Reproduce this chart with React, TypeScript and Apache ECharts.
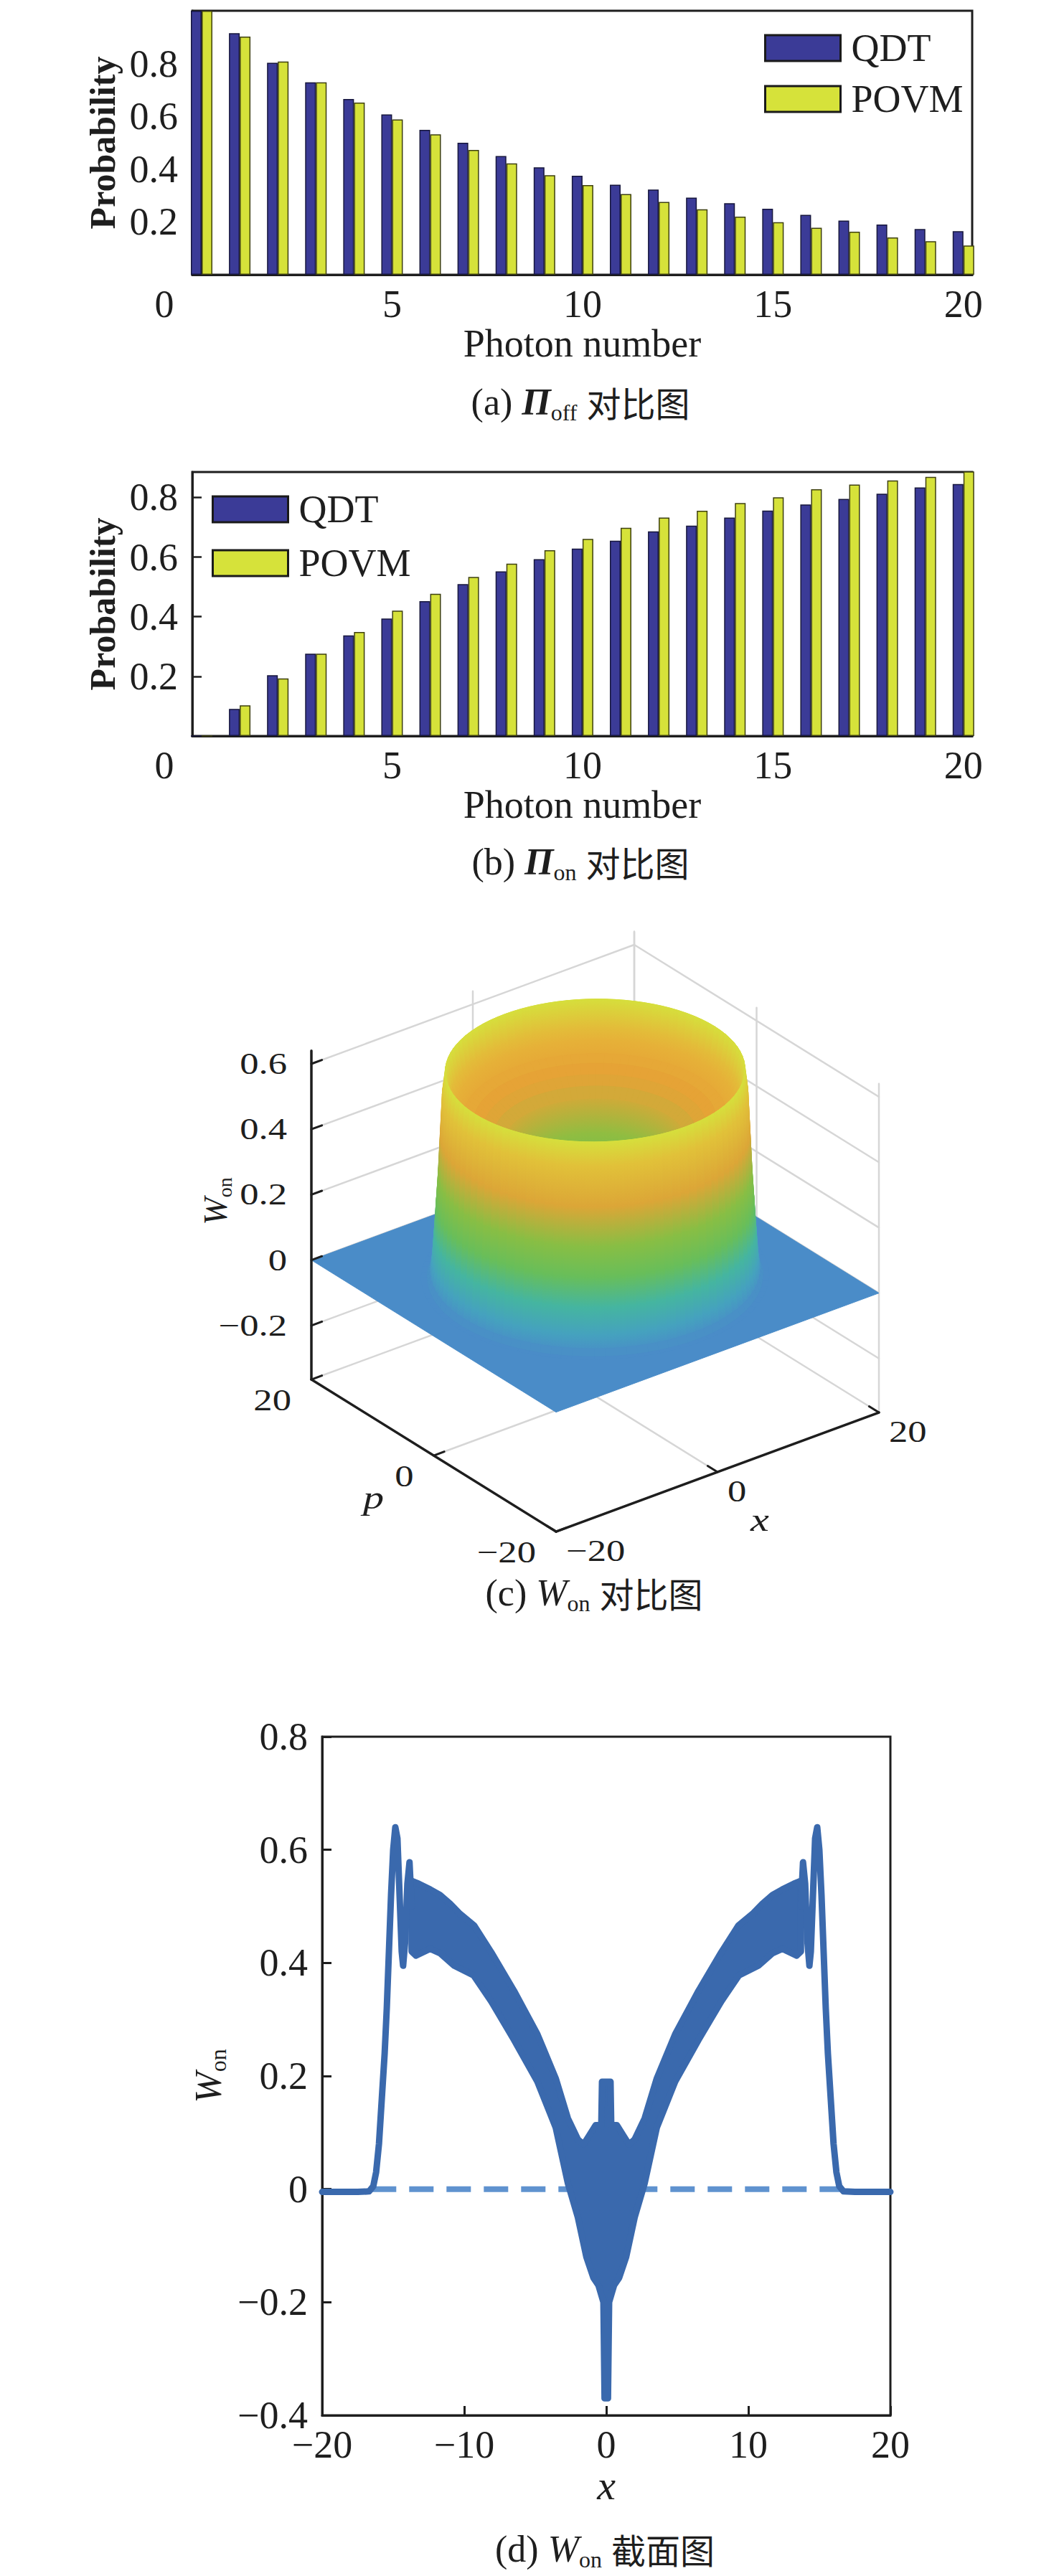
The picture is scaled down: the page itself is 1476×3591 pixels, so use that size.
import React, { useEffect, useRef } from 'react';
import * as echarts from 'echarts';

// ---------------- Panel (a) / (b): photon-number distributions ----------------
const PHOTON_NUMBERS = [0, 1, 2, 3, 4, 5, 6, 7, 8, 9, 10, 11, 12, 13, 14, 15, 16, 17, 18, 19, 20];
const OFF_QDT = [1.0, 0.915, 0.803, 0.729, 0.666, 0.607, 0.549, 0.5, 0.45, 0.407, 0.375, 0.341, 0.323, 0.292, 0.271, 0.25, 0.227, 0.205, 0.19, 0.173, 0.165];
const OFF_POVM = [1.0, 0.902, 0.808, 0.729, 0.652, 0.588, 0.532, 0.473, 0.422, 0.377, 0.34, 0.306, 0.276, 0.248, 0.22, 0.199, 0.178, 0.163, 0.141, 0.127, 0.111];
const ON_QDT = [0, 0.091, 0.204, 0.276, 0.337, 0.394, 0.452, 0.509, 0.552, 0.593, 0.628, 0.655, 0.686, 0.705, 0.732, 0.756, 0.776, 0.795, 0.812, 0.833, 0.845];
const ON_POVM = [0, 0.103, 0.193, 0.276, 0.349, 0.42, 0.477, 0.533, 0.578, 0.623, 0.661, 0.698, 0.732, 0.755, 0.781, 0.8, 0.827, 0.843, 0.857, 0.869, 0.895];
const PHOTON_TICKS = [0, 5, 10, 15, 20];
const PROB_TICKS = [0.2, 0.4, 0.6, 0.8];

// ---------------- Panel (c): radially symmetric W_on surface ----------------
const SURF_R = [0, 1, 2, 3, 4, 5, 6, 7, 8, 9, 10, 11, 12, 13, 13.8, 14.3, 14.8, 15.1, 15.3, 15.5, 15.7, 15.9, 16.1, 16.3, 16.6, 17.2];
const SURF_W = [0.0, -0.02, 0.03, 0.11, 0.18, 0.24, 0.29, 0.335, 0.37, 0.41, 0.435, 0.455, 0.475, 0.49, 0.52, 0.55, 0.63, 0.56, 0.44, 0.32, 0.23, 0.14, 0.06, 0.02, 0.0, 0.0];
const Z_TICKS = [-0.2, 0, 0.2, 0.4, 0.6];
const XP_TICKS = [-20, 0, 20];
const Z_RANGE = [-0.365, 0.64];
const XP_RANGE = [-20, 20];
const CMAP_W = [-0.37, -0.1, 0.0, 0.07, 0.14, 0.24, 0.33, 0.4, 0.46, 0.53, 0.59, 0.64];
const CMAP_C = ['#3b3f9e', '#4678c8', '#4a8cc8', '#44a6bc', '#45b5a0', '#6cbf52', '#8cbe42', '#c8ad3a', '#e6a236', '#e6b438', '#dccd3a', '#d4e23c'];

// ---------------- Panel (d): W_on cross-section ----------------
const CUT_LEFT_X = [-20, -17.5, -16.7, -16.4, -16.2, -16.0, -15.8, -15.6, -15.45, -15.3, -15.15, -15.0, -14.85, -14.7, -14.55, -14.4, -14.3, -14.15, -14.0, -13.85, -13.7];
const CUT_LEFT_W = [-0.005, -0.005, -0.004, 0.005, 0.03, 0.08, 0.16, 0.24, 0.32, 0.42, 0.52, 0.6, 0.64, 0.62, 0.52, 0.42, 0.395, 0.44, 0.54, 0.578, 0.5];
const CUT_RIGHT_X = [13.7, 13.85, 14.0, 14.15, 14.3, 14.4, 14.55, 14.7, 14.85, 15.0, 15.15, 15.3, 15.45, 15.6, 15.8, 16.0, 16.2, 16.4, 16.7, 17.5, 20];
const CUT_RIGHT_W = [0.5, 0.578, 0.54, 0.44, 0.395, 0.42, 0.52, 0.62, 0.64, 0.6, 0.52, 0.42, 0.32, 0.24, 0.16, 0.08, 0.03, 0.005, -0.004, -0.005, -0.005];
const BAND_UPPER_X = [-13.7, -13.2, -12.4, -11.7, -11.0, -10.35, -9.3, -8.1, -6.5, -4.85, -3.56, -2.7, -2.0, -1.6, -1.2, -0.75, -0.35, -0.3, 0.3, 0.35, 0.75, 1.2, 1.6, 2.0, 2.7, 3.56, 4.85, 6.5, 8.1, 9.3, 10.35, 11.0, 11.7, 12.4, 13.2, 13.7];
const BAND_UPPER_W = [0.545, 0.54, 0.53, 0.52, 0.505, 0.488, 0.466, 0.419, 0.351, 0.274, 0.196, 0.125, 0.088, 0.079, 0.095, 0.113, 0.113, 0.19, 0.19, 0.113, 0.113, 0.095, 0.079, 0.088, 0.125, 0.196, 0.274, 0.351, 0.419, 0.466, 0.488, 0.505, 0.52, 0.53, 0.54, 0.545];
const BAND_LOWER_X = [-13.7, -13.4, -12.4, -11.7, -10.7, -9.34, -8.1, -6.5, -4.85, -3.56, -2.7, -2.0, -1.4, -0.9, -0.55, -0.2, -0.12, 0.12, 0.2, 0.55, 0.9, 1.4, 2.0, 2.7, 3.56, 4.85, 6.5, 8.1, 9.34, 10.7, 11.7, 12.4, 13.4, 13.7];
const BAND_LOWER_W = [0.42, 0.413, 0.425, 0.417, 0.395, 0.378, 0.332, 0.264, 0.19, 0.109, 0.01, -0.05, -0.12, -0.157, -0.17, -0.2, -0.37, -0.37, -0.2, -0.17, -0.157, -0.12, -0.05, 0.01, 0.109, 0.19, 0.264, 0.332, 0.378, 0.395, 0.417, 0.425, 0.413, 0.42];
const ZERO_X = [-16.5, 16.5];
const ZERO_W = [0, 0];
const CUT_X_TICKS = [-20, -10, 0, 10, 20];

// ---------------- styling ----------------
const SERIF = 'Liberation Serif';
const CJK = 'Noto Sans CJK SC';
const INK = '#1e1e1e';
const QDT_C = '#3b3b97';
const POVM_C = '#d6e23a';
const LINE_C = '#3a69ad';
const DASH_C = '#5f92cf';
const GRID_C = '#d6d6d6';

// 3D view (orthographic, MATLAB-like az -37.5 / el 30): screen px per data unit
const EX = [11.25, 4.15];
const EP = [-8.525, 5.3];
const EZ = 456;
const project = (x: number, p: number, w: number) => [EX[0] * x + EP[0] * p, EX[1] * x + EP[1] * p + EZ * w];
const U_RANGE = [-560, 480];
const V_RANGE = [-420, 460];

const hexRgb = (c: string) => [parseInt(c.slice(1, 3), 16), parseInt(c.slice(3, 5), 16), parseInt(c.slice(5, 7), 16)];
const CMAP_RGB = CMAP_C.map(hexRgb);
function cmap(w: number) {
  if (w <= CMAP_W[0]) w = CMAP_W[0];
  if (w >= CMAP_W[CMAP_W.length - 1]) w = CMAP_W[CMAP_W.length - 1];
  let k = 0;
  while (k < CMAP_W.length - 2 && w > CMAP_W[k + 1]) k++;
  const t = (w - CMAP_W[k]) / (CMAP_W[k + 1] - CMAP_W[k]);
  const a = CMAP_RGB[k], b = CMAP_RGB[k + 1];
  const c = a.map((v, i) => Math.round(v + (b[i] - v) * t));
  return `rgb(${c[0]},${c[1]},${c[2]})`;
}

const fmtNum = (v: number) => {
  const r = Math.round(v * 10) / 10;
  return r === 0 ? '0' : String(r).replace('-', '\u2212');
};

function render3D(_params: any, api: any) {
  const P = (x: number, p: number, w: number) => api.coord(project(x, p, w));
  const [zMin, zMax] = Z_RANGE;
  const [a0, a1] = XP_RANGE;
  const children: any[] = [];
  const seg = (A: number[], B: number[], stroke: string, lw: number) => ({
    type: 'line',
    shape: { x1: A[0], y1: A[1], x2: B[0], y2: B[1] },
    style: { stroke, lineWidth: lw, lineCap: 'round' },
  });
  // grid lines on the back walls and the floor
  Z_TICKS.forEach((z) => {
    children.push(seg(P(a0, a1, z), P(a1, a1, z), GRID_C, 2.5));
    children.push(seg(P(a1, a1, z), P(a1, a0, z), GRID_C, 2.5));
  });
  XP_TICKS.forEach((t) => {
    children.push(seg(P(t, a1, zMin), P(t, a1, zMax), GRID_C, 2.5));
    children.push(seg(P(a1, t, zMin), P(a1, t, zMax), GRID_C, 2.5));
    children.push(seg(P(t, a0, zMin), P(t, a1, zMin), GRID_C, 2.5));
    children.push(seg(P(a0, t, zMin), P(a1, t, zMin), GRID_C, 2.5));
  });
  // flat floor of the surface
  const wf = SURF_W[SURF_W.length - 1];
  const floorC = cmap(wf);
  children.push({
    type: 'polygon',
    shape: { points: [P(a0, a0, wf), P(a1, a0, wf), P(a1, a1, wf), P(a0, a1, wf)] },
    style: { fill: floorC, stroke: floorC, lineWidth: 1 },
  });
  // revolved surface, painter's order
  const NT = 96;
  const faces: any[] = [];
  for (let i = 0; i < SURF_R.length - 1; i++) {
    const r0 = SURF_R[i], r1 = SURF_R[i + 1], w0 = SURF_W[i], w1 = SURF_W[i + 1];
    for (let j = 0; j < NT; j++) {
      const t0 = (j / NT) * 2 * Math.PI, t1 = ((j + 1) / NT) * 2 * Math.PI, tm = (t0 + t1) / 2;
      const c0 = Math.cos(t0), s0 = Math.sin(t0), c1 = Math.cos(t1), s1 = Math.sin(t1);
      const pts = [P(r0 * c0, r0 * s0, w0), P(r1 * c0, r1 * s0, w1), P(r1 * c1, r1 * s1, w1), P(r0 * c1, r0 * s1, w0)];
      const rm = (r0 + r1) / 2;
      const depth = EX[1] * rm * Math.cos(tm) + EP[1] * rm * Math.sin(tm);
      let fill: any;
      if (Math.abs(w1 - w0) > 0.03) {
        const A = P(r0 * Math.cos(tm), r0 * Math.sin(tm), w0);
        const B = P(r1 * Math.cos(tm), r1 * Math.sin(tm), w1);
        fill = new echarts.graphic.LinearGradient(A[0], A[1], B[0], B[1], [
          { offset: 0, color: cmap(w0) },
          { offset: 1, color: cmap(w1) },
        ], true);
      } else {
        fill = cmap((w0 + w1) / 2);
      }
      faces.push({ depth, pts, fill });
    }
  }
  faces.sort((A, B) => B.depth - A.depth);
  faces.forEach((f) => children.push({ type: 'polygon', shape: { points: f.pts }, style: { fill: f.fill, stroke: f.fill, lineWidth: 1 } }));
  // axes
  children.push(seg(P(a0, a1, zMin), P(a0, a1, zMax), INK, 3.5));
  children.push(seg(P(a0, a1, zMin), P(a0, a0, zMin), INK, 3.5));
  children.push(seg(P(a0, a0, zMin), P(a1, a0, zMin), INK, 3.5));
  const txt = (pos: number[], dx: number, dy: number, text: string, align: string, extra: any = {}) => ({
    type: 'text',
    x: pos[0] + dx,
    y: pos[1] + dy,
    scaleX: 1.12,
    scaleY: 0.88,
    style: { text, align, verticalAlign: 'middle', fontFamily: SERIF, fontSize: 47, fill: INK, ...extra },
  });
  Z_TICKS.forEach((z) => {
    children.push(seg(P(a0, a1, z), P(a0 + 1.3, a1, z), INK, 3));
    children.push(txt(P(a0, a1, z), -34, 0, fmtNum(z), 'right'));
  });
  XP_TICKS.forEach((t) => {
    const lab = t < 0 ? '\u2212' + Math.abs(t) : String(t);
    children.push(seg(P(a0, t, zMin), P(a0 + 1.3, t, zMin), INK, 3));
    children.push(seg(P(t, a0, zMin), P(t, a0 + 1.6, zMin), INK, 3));
    children.push(txt(P(a0, t, zMin), -28, 29, lab, 'right'));
    children.push(txt(P(t, a0, zMin), 14, 27, lab, 'left'));
  });
  children.push(txt(P(a0, 0, zMin), -84, 58, 'p', 'center', { fontStyle: 'italic', fontSize: 52 }));
  children.push(txt(P(0, a0, zMin), 59, 66, 'x', 'center', { fontStyle: 'italic', fontSize: 52 }));
  const wPos = P(a0, a1, 0.18);
  children.push({
    type: 'text',
    x: wPos[0] - 134,
    y: wPos[1],
    rotation: Math.PI / 2,
    style: {
      text: '{w|W}{s|on}',
      align: 'center',
      verticalAlign: 'middle',
      rich: {
        w: { fontFamily: SERIF, fontStyle: 'italic', fontSize: 46, lineHeight: 54, fill: INK, color: INK },
        s: { fontFamily: SERIF, fontSize: 28, lineHeight: 18, verticalAlign: 'bottom', fill: INK, color: INK },
      },
    },
  });
  return { type: 'group', children };
}

function renderBand(_params: any, api: any) {
  const up = BAND_UPPER_X.map((x, i) => api.coord([x, BAND_UPPER_W[i]]));
  const lo = BAND_LOWER_X.map((x, i) => api.coord([x, BAND_LOWER_W[i]])).reverse();
  return {
    type: 'polygon',
    shape: { points: up.concat(lo) },
    style: { fill: LINE_C, stroke: LINE_C, lineWidth: 9, lineJoin: 'round' },
  };
}

function caption(x: number, y: number, label: string, sym: string, symBold: boolean, sub: string, cn: string) {
  return {
    type: 'text',
    x,
    y,
    style: {
      text: `{t|${label} }{m|${sym}}{s|${sub}}{t| }{c|${cn}}`,
      align: 'center',
      verticalAlign: 'middle',
      rich: {
        t: { fontFamily: SERIF, fontSize: 52, lineHeight: 62, fill: INK, color: INK },
        m: { fontFamily: SERIF, fontSize: 52, lineHeight: 62, fontStyle: 'italic', fontWeight: symBold ? 'bold' : 'normal', fill: INK, color: INK },
        s: { fontFamily: SERIF, fontSize: 32, lineHeight: 22, verticalAlign: 'bottom', fill: INK, color: INK },
        c: { fontFamily: CJK, fontSize: 48, lineHeight: 62, fill: INK, color: INK },
      },
    },
  };
}

function barAxes(gridIndex: number, yMax: number) {
  const x = {
    gridIndex,
    type: 'value',
    min: -0.245,
    max: 20.23,
    axisLine: { show: true, onZero: false, lineStyle: { color: INK, width: 3 } },
    axisTick: { show: false },
    splitLine: { show: false },
    axisLabel: {
      customValues: PHOTON_TICKS,
      margin: 14,
      fontFamily: SERIF,
      fontSize: 54,
      color: INK,
      formatter: (v: number) => (v === 0 ? '{z|0}' : String(v)),
      rich: { z: { fontFamily: SERIF, fontSize: 54, color: INK, padding: [0, 104, 0, 0] } },
    },
    name: 'Photon number',
    nameLocation: 'middle',
    nameGap: 58,
    nameTextStyle: { fontFamily: SERIF, fontSize: 54, color: INK },
  };
  const y = {
    gridIndex,
    type: 'value',
    min: 0,
    max: yMax,
    interval: 0.2,
    axisLine: { show: true, onZero: false, lineStyle: { color: INK, width: 3 } },
    axisTick: { show: true, inside: true, length: 13, customValues: PROB_TICKS, lineStyle: { color: INK, width: 2.5 } },
    splitLine: { show: false },
    axisLabel: {
      customValues: PROB_TICKS,
      margin: 20,
      fontFamily: SERIF,
      fontSize: 54,
      color: INK,
      formatter: (v: number) => (PROB_TICKS.some((t) => Math.abs(t - v) < 1e-6) ? v.toFixed(1) : ''),
    },
    name: 'Probability',
    nameLocation: 'middle',
    nameGap: 100,
    nameTextStyle: { fontFamily: SERIF, fontSize: 50, fontWeight: 'bold', color: INK },
  };
  return { x, y };
}

function barSeries(gridIndex: number, qdt: number[], povm: number[]) {
  return [
    {
      type: 'bar',
      name: 'QDT',
      xAxisIndex: gridIndex,
      yAxisIndex: gridIndex,
      data: PHOTON_NUMBERS.map((n, i) => [n, qdt[i]]),
      barWidth: 15,
      barGap: '0%',
      itemStyle: { color: QDT_C, borderColor: '#17173d', borderWidth: 1.5 },
    },
    {
      type: 'bar',
      name: 'POVM',
      xAxisIndex: gridIndex,
      yAxisIndex: gridIndex,
      data: PHOTON_NUMBERS.map((n, i) => [n, povm[i]]),
      barWidth: 15,
      barGap: '0%',
      itemStyle: { color: POVM_C, borderColor: '#3e4010', borderWidth: 1.5 },
    },
  ];
}

function legend(left: number, top: number, gap: number) {
  return {
    data: ['QDT', 'POVM'],
    orient: 'vertical',
    left,
    top,
    itemWidth: 105,
    itemHeight: 36,
    itemGap: gap,
    icon: 'rect',
    selectedMode: false,
    itemStyle: { borderColor: '#1a1a1a', borderWidth: 3 },
    textStyle: { fontFamily: SERIF, fontSize: 54, color: INK, lineHeight: 40, padding: [0, 0, 0, 10] },
  };
}

function buildOption() {
  const a = barAxes(0, 1.0);
  const b = barAxes(1, 0.885);
  return {
    animation: false,
    backgroundColor: '#ffffff',
    textStyle: { fontFamily: SERIF },
    grid: [
      { left: 268, top: 15, width: 1087, height: 368, show: true, borderColor: INK, borderWidth: 3, containLabel: false },
      { left: 268, top: 658, width: 1087, height: 368, show: true, borderColor: INK, borderWidth: 3, containLabel: false },
      {
        left: 829.5 + U_RANGE[0],
        top: 1779.6 - V_RANGE[1],
        width: U_RANGE[1] - U_RANGE[0],
        height: V_RANGE[1] - V_RANGE[0],
        show: false,
      },
      { left: 449, top: 2421, width: 792, height: 946, show: true, borderColor: INK, borderWidth: 3, containLabel: false },
    ],
    legend: [legend(1060, 35, 17), legend(290, 678, 21)],
    xAxis: [
      a.x,
      b.x,
      { gridIndex: 2, type: 'value', min: U_RANGE[0], max: U_RANGE[1], show: false },
      {
        gridIndex: 3,
        type: 'value',
        min: -20,
        max: 20,
        interval: 10,
        axisLine: { show: true, onZero: false, lineStyle: { color: INK, width: 3 } },
        axisTick: { show: true, inside: true, length: 13, customValues: CUT_X_TICKS, lineStyle: { color: INK, width: 3 } },
        splitLine: { show: false },
        axisLabel: { customValues: CUT_X_TICKS, margin: 14, fontFamily: SERIF, fontSize: 54, color: INK, formatter: fmtNum },
        name: 'x',
        nameLocation: 'middle',
        nameGap: 62,
        nameTextStyle: { fontFamily: SERIF, fontStyle: 'italic', fontSize: 58, color: INK },
      },
    ],
    yAxis: [
      a.y,
      b.y,
      { gridIndex: 2, type: 'value', min: V_RANGE[0], max: V_RANGE[1], show: false },
      {
        gridIndex: 3,
        type: 'value',
        min: -0.4,
        max: 0.8,
        interval: 0.2,
        axisLine: { show: true, onZero: false, lineStyle: { color: INK, width: 3 } },
        axisTick: { show: true, inside: true, length: 13, lineStyle: { color: INK, width: 3 } },
        splitLine: { show: false },
        axisLabel: { margin: 20, fontFamily: SERIF, fontSize: 54, color: INK, formatter: fmtNum },
        name: '{w|W}{s|on}',
        nameLocation: 'middle',
        nameGap: 108,
        nameTextStyle: {
          fontFamily: SERIF,
          color: INK,
          rich: {
            w: { fontFamily: SERIF, fontStyle: 'italic', fontSize: 52, lineHeight: 60, color: INK },
            s: { fontFamily: SERIF, fontSize: 32, lineHeight: 22, verticalAlign: 'bottom', color: INK },
          },
        },
      },
    ],
    series: [
      ...barSeries(0, OFF_QDT, OFF_POVM),
      ...barSeries(1, ON_QDT, ON_POVM),
      {
        type: 'custom',
        xAxisIndex: 2,
        yAxisIndex: 2,
        silent: true,
        data: [[0, 0]],
        renderItem: render3D,
        z: 2,
      },
      {
        type: 'line',
        xAxisIndex: 3,
        yAxisIndex: 3,
        silent: true,
        symbol: 'none',
        data: ZERO_X.map((x, i) => [x, ZERO_W[i]]),
        lineStyle: { color: DASH_C, width: 8, type: [34, 18] },
        z: 1,
      },
      {
        type: 'custom',
        xAxisIndex: 3,
        yAxisIndex: 3,
        silent: true,
        data: [[0, 0]],
        renderItem: renderBand,
        z: 3,
      },
      {
        type: 'line',
        xAxisIndex: 3,
        yAxisIndex: 3,
        silent: true,
        symbol: 'none',
        data: CUT_LEFT_X.map((x, i) => [x, CUT_LEFT_W[i]]),
        lineStyle: { color: LINE_C, width: 9, join: 'round', cap: 'round' },
        z: 3,
      },
      {
        type: 'line',
        xAxisIndex: 3,
        yAxisIndex: 3,
        silent: true,
        symbol: 'none',
        data: CUT_RIGHT_X.map((x, i) => [x, CUT_RIGHT_W[i]]),
        lineStyle: { color: LINE_C, width: 9, join: 'round', cap: 'round' },
        z: 3,
      },
    ],
    graphic: [
      caption(809, 560, '(a)', '\u03A0', true, 'off', '对比图'),
      caption(809, 1201, '(b)', '\u03A0', true, 'on', '对比图'),
      caption(828, 2220, '(c)', 'W', false, 'on', '对比图'),
      caption(843, 3553, '(d)', 'W', false, 'on', '截面图'),
    ],
  };
}

export default function App() {
  const ref = useRef<HTMLDivElement>(null);
  useEffect(() => {
    if (!ref.current) return;
    const chart = echarts.init(ref.current, null, { renderer: 'svg', width: 1476, height: 3591 });
    chart.setOption(buildOption() as any);
    return () => chart.dispose();
  }, []);
  return <div ref={ref} style={{ position: 'absolute', left: 0, top: 0, width: 1476, height: 3591, background: '#ffffff' }} />;
}
